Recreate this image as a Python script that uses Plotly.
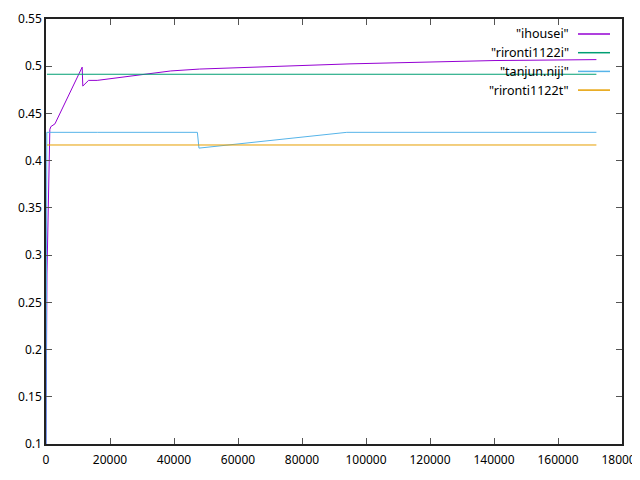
import plotly.graph_objects as go

names = ['"ihousei"', '"rironti1122i"', '"tanjun.niji"', '"rironti1122t"']
colors = ["#9400d3", "#009e73", "#56b4e9", "#e69f00"]

ihousei_x = [0, 300, 1200, 1500, 2800, 11300, 11500, 13300, 16000, 39000, 48000, 95000, 140000, 172000]
ihousei_y = [0.1, 0.28, 0.433, 0.436, 0.439, 0.499, 0.479, 0.485, 0.485, 0.495, 0.497, 0.5025, 0.506, 0.507]

rironti_i_x = [300, 16000, 172000]
rironti_i_y = [0.4915, 0.4915, 0.4915]

tanjun_x = [0, 250, 16000, 47300, 47800, 94000, 172000]
tanjun_y = [0.05, 0.43, 0.43, 0.43, 0.4133, 0.43, 0.43]

rironti_t_x = [300, 16000, 172000]
rironti_t_y = [0.4166, 0.4166, 0.4166]

series_x = [ihousei_x, rironti_i_x, tanjun_x, rironti_t_x]
series_y = [ihousei_y, rironti_i_y, tanjun_y, rironti_t_y]

x_ticks = [0, 20000, 40000, 60000, 80000, 100000, 120000, 140000, 160000, 180000]
y_ticks = [0.1, 0.15, 0.2, 0.25, 0.3, 0.35, 0.4, 0.45, 0.5, 0.55]
y_tick_text = ["0.1", "0.15", "0.2", "0.25", "0.3", "0.35", "0.4", "0.45", "0.5", "0.55"]

FONT = "Noto Sans"

fig = go.Figure()
for nm, c, xs, ys in zip(names, colors, series_x, series_y):
    fig.add_trace(go.Scatter(x=xs, y=ys, mode="lines", name=nm,
                             line=dict(color=c, width=1), showlegend=False,
                             cliponaxis=True))

# gnuplot-style legend (text right, sample line at right)
for i, (nm, c) in enumerate(zip(names, colors)):
    yp = 34 + i * 18.7
    yy = 1 - (yp - 19) / 425
    fig.add_annotation(x=(570 - 46) / 576, y=yy, xref="paper", yref="paper",
                       text=nm, showarrow=False, xanchor="right", yanchor="middle",
                       borderpad=0,
                       font=dict(family=FONT, size=12.5, color="#000"))
    fig.add_shape(type="line", xref="paper", yref="paper",
                  x0=(578 - 46) / 576, x1=(610 - 46) / 576, y0=yy, y1=yy,
                  line=dict(color=c, width=1.5))

axis_common = dict(showgrid=False, zeroline=False, ticks="inside", ticklen=6,
                   tickcolor="#555", showline=True, linecolor="#222", linewidth=1.5,
                   mirror="allticks", automargin=False, ticklabeloverflow="allow",
                   tickfont=dict(family=FONT, size=12, color="#000"))

fig.update_xaxes(range=[0, 180000], tickvals=x_ticks, ticktext=[str(v) for v in x_ticks],
                 ticklabelstandoff=4, **axis_common)
fig.update_yaxes(range=[0.1, 0.55], tickvals=y_ticks, ticktext=y_tick_text, **axis_common)

# page body has an 8px margin: plot area at screen x 46..622, y 19..444
fig.update_layout(width=632, height=464, margin=dict(l=38, r=18, t=11, b=28, autoexpand=False),
                  plot_bgcolor="white", paper_bgcolor="white")

fig.write_html("out.html")
